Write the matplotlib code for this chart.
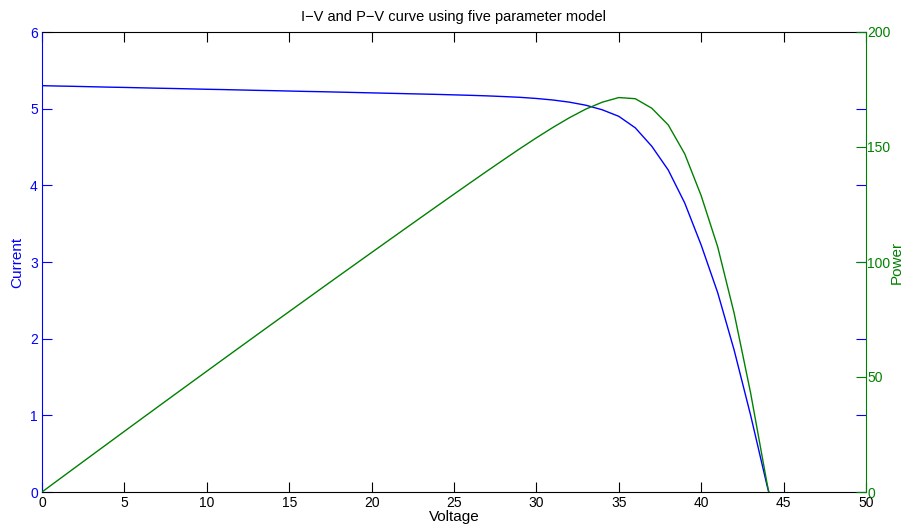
import matplotlib
matplotlib.use("Agg")
import matplotlib.pyplot as plt

plt.rcParams['font.family'] = ['Liberation Sans', 'DejaVu Sans']

# voltage samples (V) and read-off current (A) / power (W)
voltage = [0, 1, 2, 3, 4, 5, 6, 7, 8, 9, 10, 11, 12, 13, 14, 15, 16, 17, 18, 19,
           20, 21, 22, 23, 24, 25, 26, 27, 28, 29, 30, 31, 32, 33, 34, 35, 36, 37,
           38, 39, 40, 41, 42, 43, 44, 44.1]
current = [5.300, 5.295, 5.291, 5.286, 5.281, 5.277, 5.272, 5.267, 5.263, 5.258,
           5.253, 5.249, 5.244, 5.239, 5.235, 5.230, 5.225, 5.221, 5.216, 5.211,
           5.206, 5.201, 5.196, 5.191, 5.186, 5.180, 5.174, 5.167, 5.158, 5.148,
           5.133, 5.113, 5.085, 5.045, 4.985, 4.900, 4.750, 4.510, 4.200, 3.770,
           3.220, 2.600, 1.850, 1.000, 0.080, 0.0]
power = [0, 5.30, 10.58, 15.86, 21.12, 26.39, 31.63, 36.87, 42.10, 47.32,
         52.53, 57.74, 62.93, 68.11, 73.29, 78.45, 83.60, 88.76, 93.89, 99.01,
         104.12, 109.22, 114.31, 119.39, 124.46, 129.50, 134.52, 139.51, 144.42, 149.29,
         153.99, 158.50, 162.72, 166.49, 169.49, 171.50, 171.00, 166.87, 159.60, 147.03,
         128.80, 106.60, 77.70, 43.00, 3.52, 0]

blue = (0, 0, 1)
green = (0, 0.5, 0)

fig = plt.figure(figsize=(9.04, 5.25), dpi=100)
ax = fig.add_axes([42/904, 33/525, 824/904, 460/525])
ax2 = ax.twinx()

ax.plot(voltage, current, color=blue, lw=1)
ax2.plot(voltage, power, color=green, lw=1)

ax.set_xlim(0, 50)
ax.set_ylim(0, 6)
ax2.set_ylim(0, 200)
ax.set_xticks(range(0, 51, 5))
ax.set_yticks(range(0, 7))
ax2.set_yticks(range(0, 201, 50))

ax.tick_params(axis='x', direction='in', length=7, top=True, colors='black', labelsize=10, pad=3)
ax.tick_params(axis='y', direction='in', length=7, right=True, colors=blue, labelsize=10, pad=3)
ax2.tick_params(axis='y', direction='in', length=7, colors=green, labelsize=10, pad=1)

ax.spines['left'].set_color(blue)
ax.spines['right'].set_visible(False)
ax2.spines['left'].set_visible(False)
ax2.spines['top'].set_visible(False)
ax2.spines['bottom'].set_visible(False)
ax2.spines['right'].set_color(green)

ax.set_xlabel('Voltage', fontsize=11, labelpad=0)
ax.set_ylabel('Current', fontsize=11, color=blue, labelpad=4)
fig.text(897/904, 0.5, 'Power', fontsize=11, color=green, rotation=90,
         ha='center', va='center')
ax.set_title('I\u2212V and P\u2212V curve using five parameter model', fontsize=10.5, pad=8)

fig.savefig('out.png', dpi=100)
